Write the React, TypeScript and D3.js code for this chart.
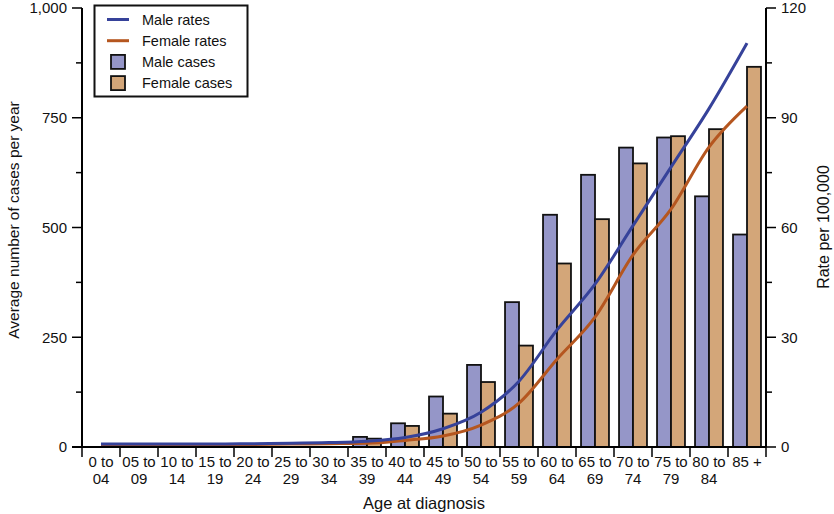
import * as d3 from 'd3';
import { useMemo } from 'react';

const WIDTH = 834;
const HEIGHT = 514;
const MARGIN = { top: 8, right: 68, bottom: 67, left: 82 };

const ageGroups = [
    ['0 to', '04'],
    ['05 to', '09'],
    ['10 to', '14'],
    ['15 to', '19'],
    ['20 to', '24'],
    ['25 to', '29'],
    ['30 to', '34'],
    ['35 to', '39'],
    ['40 to', '44'],
    ['45 to', '49'],
    ['50 to', '54'],
    ['55 to', '59'],
    ['60 to', '64'],
    ['65 to', '69'],
    ['70 to', '74'],
    ['75 to', '79'],
    ['80 to', '84'],
    ['85 +', ''],
];

const maleCases = [0, 0, 0, 0, 0, 0, 0, 23, 54, 115, 187, 330, 529, 620, 682, 705, 571, 484];
const femaleCases = [0, 0, 0, 0, 0, 0, 0, 19, 48, 76, 148, 231, 418, 519, 646, 708, 724, 866];

const maleRates = [0.8, 0.8, 0.8, 0.8, 0.9, 1.0, 1.2, 1.6, 2.6, 5.0, 9.5, 18, 32, 44.5, 60.5, 76.5, 92.5, 110.4];
const femaleRates = [0.6, 0.6, 0.6, 0.6, 0.7, 0.8, 0.9, 1.0, 1.8, 3.0, 6.0, 12, 24, 35.5, 52.5, 65, 82, 93.2];

const casesTicks = [0, 250, 500, 750, 1000];
const casesMinorTicks = [125, 375, 625, 875];
const rateTicks = [0, 30, 60, 90, 120];
const rateMinorTicks = [15, 45, 75, 105];

const MALE_FILL = '#9596c8';
const FEMALE_FILL = '#d3a679';
const MALE_LINE = '#36429a';
const FEMALE_LINE = '#b5561f';
const FONT = '"Liberation Sans", Arial, Helvetica, sans-serif';

export default function App() {
    const x0 = MARGIN.left;
    const x1 = WIDTH - MARGIN.right;
    const yBottom = HEIGHT - MARGIN.bottom;
    const yTop = MARGIN.top;

    const keys = ageGroups.map((g) => g.join(' '));

    const xScale = useMemo(() => d3.scaleBand<string>().domain(keys).range([x0, x1]), [x0, x1]);
    const subScale = useMemo(
        () =>
            d3
                .scaleBand<string>()
                .domain(['male', 'female'])
                .range([0, xScale.bandwidth()])
                .paddingInner(0)
                .paddingOuter(0.36),
        [xScale]
    );
    const yCases = d3.scaleLinear().domain([0, 1000]).range([yBottom, yTop]);
    const yRate = d3.scaleLinear().domain([0, 120]).range([yBottom, yTop]);

    const cx = (i: number) => (xScale(keys[i]) ?? 0) + xScale.bandwidth() / 2;

    const rateLine = d3
        .line<number>()
        .x((_, i) => cx(i))
        .y((d) => yRate(d))
        .curve(d3.curveMonotoneX);

    const bars: JSX.Element[] = [];
    keys.forEach((k, i) => {
        const bx = xScale(k) ?? 0;
        [
            { key: 'male', v: maleCases[i], fill: MALE_FILL },
            { key: 'female', v: femaleCases[i], fill: FEMALE_FILL },
        ].forEach((b) => {
            if (b.v <= 0) return;
            bars.push(
                <rect
                    key={`${k}-${b.key}`}
                    x={bx + (subScale(b.key) ?? 0)}
                    y={yCases(b.v)}
                    width={subScale.bandwidth()}
                    height={yBottom - yCases(b.v)}
                    fill={b.fill}
                    stroke="#111"
                    strokeWidth={1.8}
                />
            );
        });
    });

    const legendItems = [
        { label: 'Male rates', kind: 'line', color: MALE_LINE },
        { label: 'Female rates', kind: 'line', color: FEMALE_LINE },
        { label: 'Male cases', kind: 'box', color: MALE_FILL },
        { label: 'Female cases', kind: 'box', color: FEMALE_FILL },
    ];

    return (
        <svg
            width={WIDTH}
            height={HEIGHT}
            style={{ position: 'absolute', left: 0, top: 0, fontFamily: FONT }}
        >
            <rect width={WIDTH} height={HEIGHT} fill="#fff" />
            {bars}
            <path d={rateLine(femaleRates) ?? ''} fill="none" stroke={FEMALE_LINE} strokeWidth={3} />
            <path d={rateLine(maleRates) ?? ''} fill="none" stroke={MALE_LINE} strokeWidth={3} />

            {/* x axis */}
            <line x1={72} x2={x1} y1={yBottom} y2={yBottom} stroke="#000" strokeWidth={2} />
            {keys.map((k) => (
                <line
                    key={`xt-${k}`}
                    x1={xScale(k)}
                    x2={xScale(k)}
                    y1={yBottom}
                    y2={yBottom + 10}
                    stroke="#000"
                    strokeWidth={1.5}
                />
            ))}
            <line x1={x1} x2={x1} y1={yBottom} y2={yBottom + 10} stroke="#000" strokeWidth={1.5} />
            {ageGroups.map((g, i) => (
                <text key={`xl-${i}`} textAnchor="middle" fontSize={15} fill="#111">
                    <tspan x={cx(i)} y={467}>
                        {g[0]}
                    </tspan>
                    <tspan x={cx(i)} y={484}>
                        {g[1]}
                    </tspan>
                </text>
            ))}
            <text x={424} y={509} textAnchor="middle" fontSize={16.5} fill="#111">
                Age at diagnosis
            </text>

            {/* left axis */}
            <line x1={x0} x2={x0} y1={yTop} y2={yBottom} stroke="#000" strokeWidth={2} />
            {casesTicks.map((t) => (
                <g key={`lt-${t}`}>
                    <line x1={x0 - 10} x2={x0} y1={yCases(t)} y2={yCases(t)} stroke="#000" strokeWidth={1.5} />
                    <text x={x0 - 15} y={yCases(t)} dy="0.35em" textAnchor="end" fontSize={15} fill="#111">
                        {d3.format(',')(t)}
                    </text>
                </g>
            ))}
            {casesMinorTicks.map((t) => (
                <line key={`lm-${t}`} x1={x0 - 6} x2={x0} y1={yCases(t)} y2={yCases(t)} stroke="#000" strokeWidth={1.5} />
            ))}
            <text
                transform="translate(19,220) rotate(-90)"
                textAnchor="middle"
                fontSize={15.5}
                fill="#111"
            >
                Average number of cases per year
            </text>

            {/* right axis */}
            <line x1={x1} x2={x1} y1={yTop} y2={yBottom} stroke="#000" strokeWidth={2} />
            {rateTicks.map((t) => (
                <g key={`rt-${t}`}>
                    <line x1={x1} x2={x1 + 10} y1={yRate(t)} y2={yRate(t)} stroke="#000" strokeWidth={1.5} />
                    <text x={x1 + 15} y={yRate(t)} dy="0.35em" textAnchor="start" fontSize={15} fill="#111">
                        {t}
                    </text>
                </g>
            ))}
            {rateMinorTicks.map((t) => (
                <line key={`rm-${t}`} x1={x1} x2={x1 + 6} y1={yRate(t)} y2={yRate(t)} stroke="#000" strokeWidth={1.5} />
            ))}
            <text
                transform="translate(829,227) rotate(-90)"
                textAnchor="middle"
                fontSize={16}
                fill="#111"
            >
                Rate per 100,000
            </text>

            {/* legend */}
            <rect x={94.5} y={5.5} width={153} height={91} fill="#fff" stroke="#111" strokeWidth={2} />
            {legendItems.map((item, i) => {
                const ly = 19.5 + i * 21.2;
                return (
                    <g key={item.label}>
                        {item.kind === 'line' ? (
                            <line x1={107} x2={129} y1={ly} y2={ly} stroke={item.color} strokeWidth={3} />
                        ) : (
                            <rect
                                x={111}
                                y={ly - 7}
                                width={14}
                                height={14}
                                fill={item.color}
                                stroke="#111"
                                strokeWidth={1.8}
                            />
                        )}
                        <text x={142} y={ly} dy="0.35em" fontSize={14.5} fill="#111">
                            {item.label}
                        </text>
                    </g>
                );
            })}
        </svg>
    );
}
